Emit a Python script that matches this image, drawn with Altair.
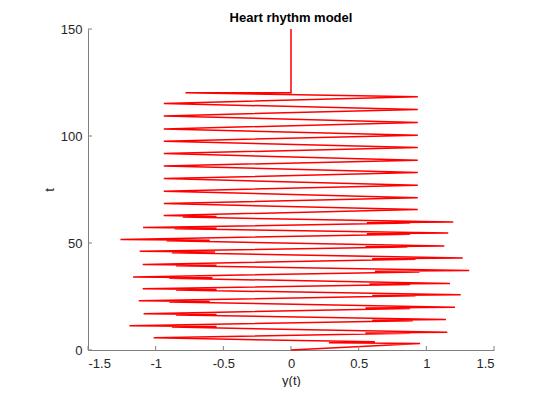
import altair as alt
import pandas as pd

# path of the curve: t (vertical) and y(t) (horizontal), in drawing order
t_vals = [0.0, 3.0, 3.4, 3.8, 5.7,
          7.8, 8.0, 8.3, 10.7, 10.95, 11.3,
          13.7, 13.95, 14.3, 16.4, 16.6, 16.9,
          19.4, 19.65, 20.0, 22.4, 22.65, 23.0,
          25.3, 25.5, 25.8, 28.0, 28.25, 28.6,
          30.6, 30.8, 31.1, 33.5, 33.75, 34.1,
          36.5, 36.75, 37.1, 39.4, 39.65, 40.0,
          42.4, 42.65, 43.0, 45.5, 45.75, 46.1,
          48.1, 48.3, 48.6, 51.0, 51.25, 51.6,
          54.1, 54.35, 54.7, 56.7, 56.9, 57.2,
          59.3, 59.5, 59.8, 62.1, 62.35, 62.8,
          65.7, 68.4, 71.2, 74.2, 77.0, 80.1, 82.9, 86.0, 88.7, 91.8,
          94.6, 97.6, 100.4, 103.3, 106.3, 109.4, 112.4, 115.2, 118.3,
          120.2, 120.2, 150.0]
y_vals = [0.0, 0.954, 0.28, 0.62, -1.015,
          0.88, 0.55, 1.155, -0.88, -0.55, -1.194,
          0.90, 0.60, 1.145, -0.85, -0.55, -1.089,
          0.88, 0.55, 1.212, -0.90, -0.60, -1.125,
          0.92, 0.60, 1.254, -0.85, -0.55, -1.096,
          0.88, 0.58, 1.175, -0.90, -0.58, -1.167,
          0.95, 0.62, 1.317, -0.85, -0.55, -1.096,
          0.92, 0.60, 1.269, -0.88, -0.56, -1.118,
          0.86, 0.55, 1.133, -0.92, -0.60, -1.260,
          0.88, 0.56, 1.162, -0.86, -0.55, -1.093,
          0.88, 0.56, 1.199, -0.80, -0.55, -0.941,
          0.937, -0.940, 0.937, -0.940, 0.937, -0.940, 0.937, -0.940, 0.937, -0.940,
          0.937, -0.940, 0.937, -0.940, 0.937, -0.940, 0.937, -0.940, 0.937,
          -0.78, 0.0, 0.0]

x_ticks = [-1.5, -1, -0.5, 0, 0.5, 1, 1.5]
t_ticks = [0, 50, 100, 150]

W, H = 406, 321

df = pd.DataFrame({"i": list(range(len(t_vals))), "t": t_vals, "y": y_vals})
xt = pd.DataFrame({"v": x_ticks})
tt = pd.DataFrame({"v": t_ticks})

xscale = alt.Scale(domain=[-1.5, 1.5], nice=False, zero=False)
tscale = alt.Scale(domain=[0, 150], nice=False, zero=False)

FONT = "Liberation Sans"

line = alt.Chart(df).mark_line(color="#ff0000", strokeWidth=1.5).encode(
    x=alt.X("y:Q", scale=xscale, title="y(t)",
            axis=alt.Axis(values=x_ticks, tickSize=0, labelPadding=7,
                          titlePadding=4, labelExpr="toString(datum.value)")),
    y=alt.Y("t:Q", scale=tscale, title="t",
            axis=alt.Axis(values=t_ticks, tickSize=0, labelPadding=6,
                          titlePadding=4, labelExpr="toString(datum.value)")),
    order=alt.Order("i:Q"),
)

xtick_rules = alt.Chart(xt).mark_rule(color="#7f7f7f", strokeWidth=1).encode(
    x=alt.X("v:Q", scale=xscale),
    y=alt.value(H),
    y2=alt.value(H - 4),
)
ttick_rules = alt.Chart(tt).mark_rule(color="#7f7f7f", strokeWidth=1).encode(
    y=alt.Y("v:Q", scale=tscale),
    x=alt.value(0),
    x2=alt.value(4),
)

chart = alt.layer(line, xtick_rules, ttick_rules).properties(
    width=W,
    height=H,
    title=alt.TitleParams("Heart rhythm model", font=FONT, fontSize=13,
                          fontWeight="bold", color="#000000", offset=-2,
                          anchor="middle"),
    autosize=alt.AutoSizeParams(type="none"),
    padding={"left": 80, "top": 21, "right": 39, "bottom": 37},
).configure_view(stroke=None).configure_axis(
    grid=False,
    domainColor="#7f7f7f",
    domainWidth=1,
    labelFont=FONT,
    labelFontSize=13,
    labelColor="#262626",
    titleFont=FONT,
    titleFontSize=13,
    titleFontWeight="normal",
    titleColor="#262626",
)

chart.save("out.html", embed_options={"renderer": "svg", "actions": False})
